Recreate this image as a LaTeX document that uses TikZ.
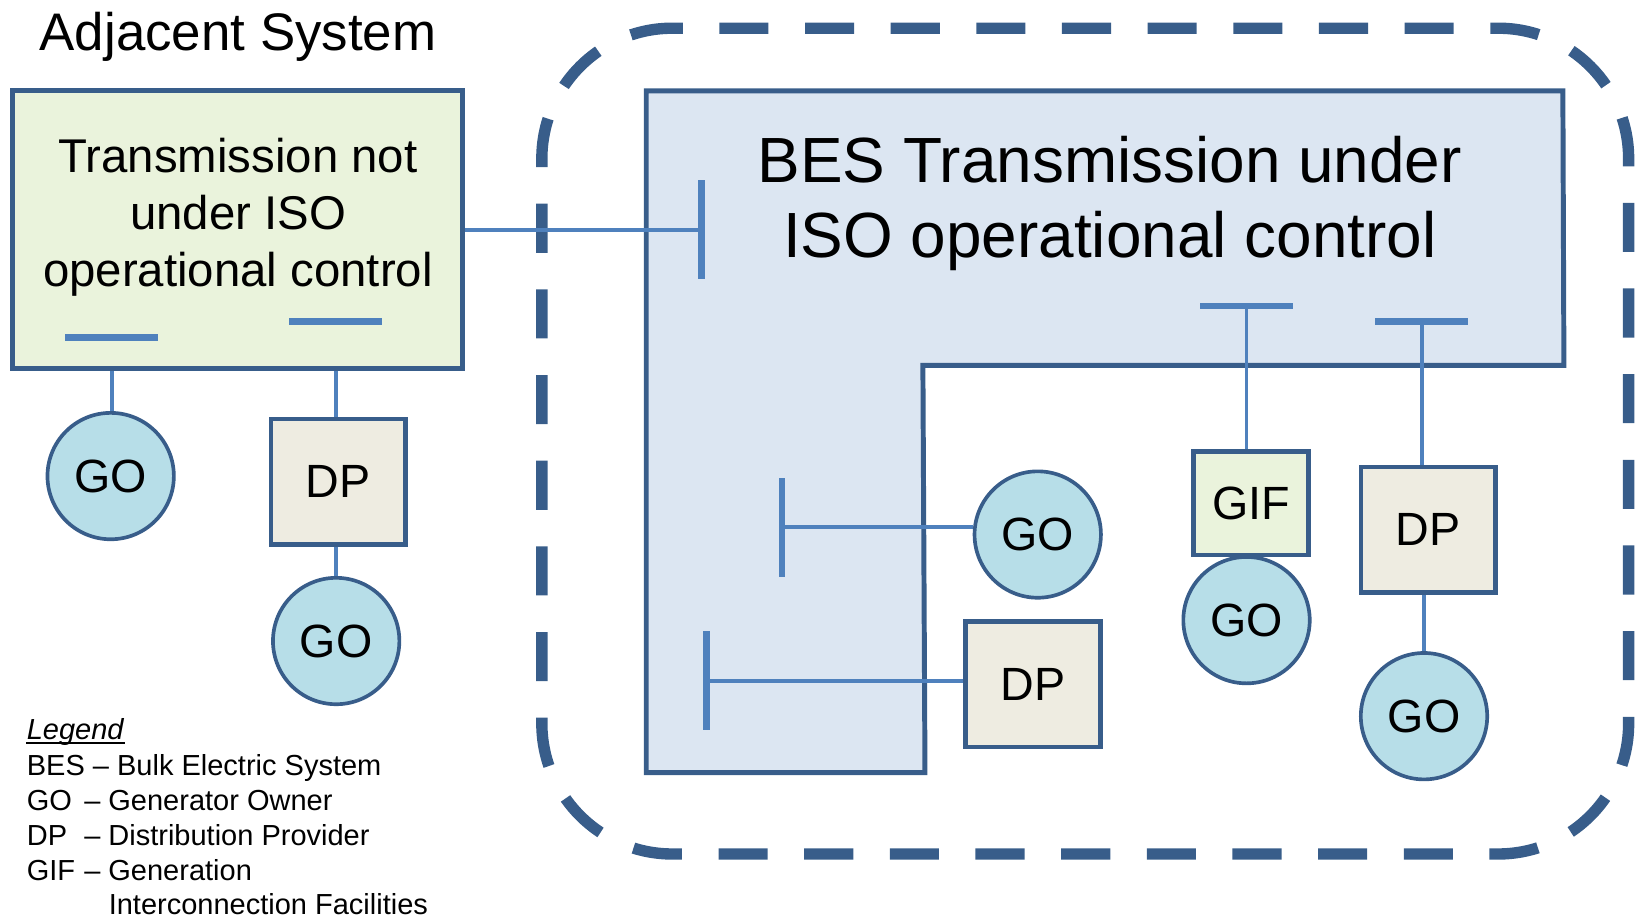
\documentclass[tikz,border=0pt]{standalone}
\usepackage{fontspec}
\setmainfont{Liberation Sans}
\usetikzlibrary{calc}
\definecolor{dkblue}{HTML}{385D8A}
\definecolor{medblue}{HTML}{4F81BD}
\definecolor{besfill}{HTML}{DCE6F2}
\definecolor{gofill}{HTML}{B7DEE8}
\definecolor{dpfill}{HTML}{EEECE1}
\definecolor{grfill}{HTML}{EAF3DC}
\pgfdeclarelayer{back}
\pgfdeclarelayer{bg}
\pgfsetlayers{back,bg,main}
\tikzset{
  region/.style={draw=dkblue, line width=1.35pt},
  bound/.style={draw=dkblue, line width=3.1pt, dash pattern=on 0.47cm off 0.35cm, dash phase=0.37cm},
  gonode/.style={circle, draw=dkblue, fill=gofill, line width=1pt, minimum size=1.21cm, inner sep=0pt, font=\fontsize{12.7}{15}\selectfont},
  dpnode/.style={rectangle, draw=dkblue, fill=dpfill, line width=1.25pt, minimum width=1.29cm, minimum height=1.2cm, inner sep=0pt, font=\fontsize{12.7}{15}\selectfont},
  gifnode/.style={rectangle, draw=dkblue, fill=grfill, line width=1.25pt, minimum width=1.1cm, minimum height=0.99cm, inner sep=0pt, font=\fontsize{12.7}{15}\selectfont},
  hbar/.style={rectangle, fill=medblue, minimum width=0.89cm, minimum height=0.065cm, inner sep=0pt},
  vbar/.style={rectangle, fill=medblue, minimum width=0.065cm, minimum height=0.95cm, inner sep=0pt},
  wire/.style={draw=medblue, line width=1.05pt},
  legend/.style={anchor=base west, inner sep=0pt, font=\fontsize{7.9}{9.5}\selectfont},
}
\begin{document}
\begin{tikzpicture}[x=0.01cm, y=-0.01cm]
\useasboundingbox (0,0) rectangle (1568,881);

% dashed boundary and BES region
\begin{pgfonlayer}{back}
\draw[bound, rounded corners=1.25cm] (644,27) -- (1560,27) -- (1560,818) -- (519,818) -- (519,27) -- (644,27);
\draw[region, fill=besfill] (619,87) -- (1497,87) -- (1498,350) -- (884,350) -- (886,740) -- (619,740) -- cycle;
\end{pgfonlayer}

% title
\node[anchor=base, inner sep=0pt, font=\fontsize{14.4}{17}\selectfont] (title) at (228,48) {Adjacent System};

% adjacent transmission box
\node[rectangle, draw=dkblue, fill=grfill, line width=1.35pt, minimum width=4.31cm, minimum height=2.66cm, inner sep=0pt] (adj) at (227.5,220) {};
\node[align=center, inner sep=0pt, font=\fontsize{12.9}{15.6}\selectfont] (adjtxt) at (228,208) {Transmission not\\under ISO\\operational control};

% BES text
\node[align=center, inner sep=0pt, font=\fontsize{17.4}{20.5}\selectfont] (bestxt) at (1063,195) {BES Transmission under\\ISO operational control};

% bars
\node[hbar] (barA) at (107,323) {};
\node[hbar] (barB) at (321.5,308) {};
\node[vbar] (barC) at (672,220) {};
\node[vbar] (barD) at (749,505) {};
\node[vbar] (barE) at (677,652) {};
\node[hbar] (barF) at (1194,293) {};
\node[hbar] (barG) at (1362,308) {};

% left side nodes
\node[gonode] (go1) at (106,456) {GO};
\node[dpnode] (dp1) at (324,461.5) {DP};
\node[gonode] (go2) at (322,614) {GO};

% right side nodes
\node[gonode] (go3) at (994,512) {GO};
\node[dpnode] (dp2) at (989.5,655.5) {DP};
\node[gonode] (go4) at (1194,594) {GO};
\node[gifnode] (gif) at (1198.5,482) {GIF};
\node[dpnode] (dp3) at (1368,507.5) {DP};
\node[gonode] (go5) at (1364,686) {GO};

% connectors
\begin{pgfonlayer}{bg}
\draw[wire] (barC.center) -- (barC.center -| adj.east);
\draw[wire] (barA.center) -- (barA.center |- go1.north);
\draw[wire] (barB.center) -- (barB.center |- dp1.north);
\draw[wire] (go2.north |- dp1.south) -- (go2.north);
\draw[wire] (barD.center) -- (barD.center -| go3.west);
\draw[wire] (barE.center) -- (barE.center -| dp2.west);
\draw[wire] (barF.center) -- (barF.center |- gif.north);
\draw[wire] (barG.center) -- (barG.center |- dp3.north);
\draw[wire] (go5.north |- dp3.south) -- (go5.north);
\end{pgfonlayer}

% legend
\node[legend] (lg0) at (25,708) {\textit{Legend}};
\draw[line width=0.55pt] ([yshift=-1.1pt]lg0.base west) -- ([yshift=-1.1pt]lg0.base east);
\node[legend] (lg1) at (25,743) {BES – Bulk Electric System};
\node[legend] (lg2a) at (25,776) {GO};
\node[legend] (lg2b) at (80,776) {– Generator Owner};
\node[legend] (lg3a) at (25,810) {DP};
\node[legend] (lg3b) at (80,810) {– Distribution Provider};
\node[legend] (lg4a) at (25,843) {GIF};
\node[legend] (lg4b) at (80,843) {– Generation};
\node[legend] (lg5) at (103.5,876) {Interconnection Facilities};
\end{tikzpicture}
\end{document}
